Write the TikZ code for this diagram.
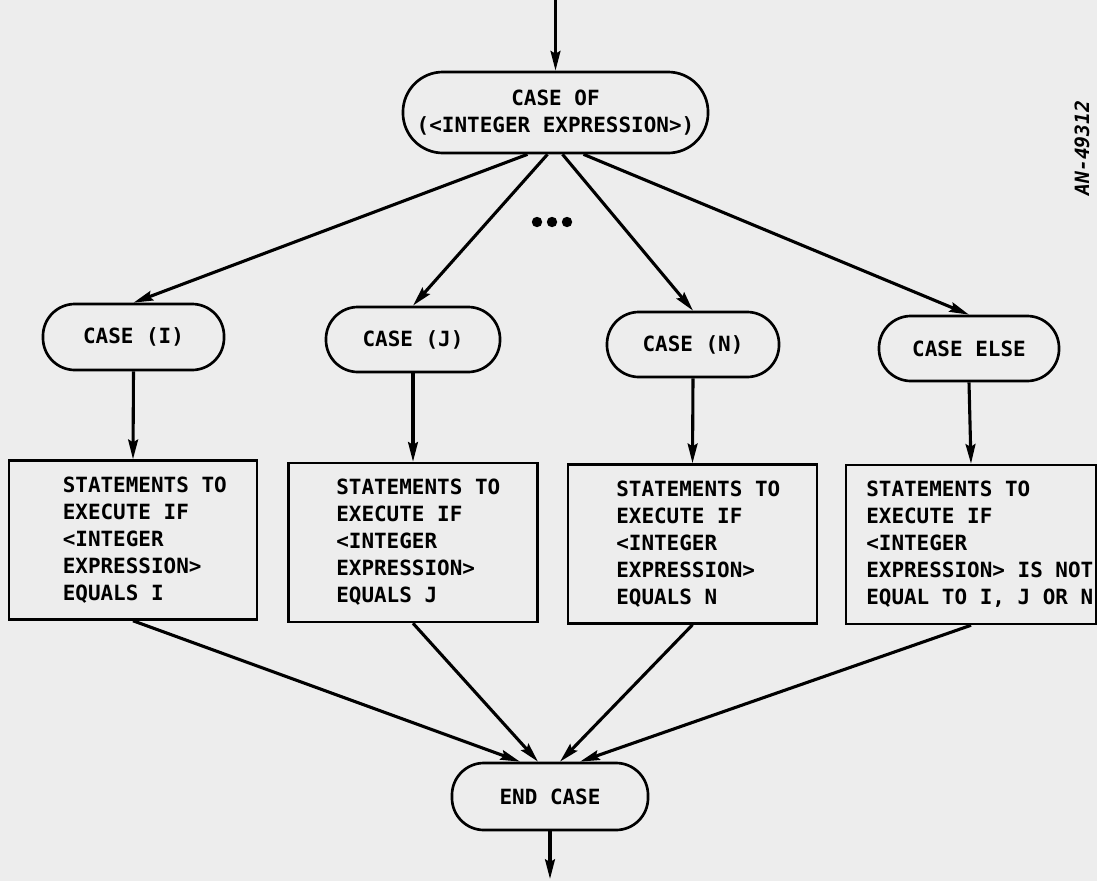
\documentclass[tikz,border=0pt]{standalone}
\usepackage{fontspec}
\setmonofont{DejaVu Sans Mono}
\usetikzlibrary{arrows.meta}

\tikzset{
	flow/.style={draw, line width=1.9pt, rounded corners=0.8cm, inner sep=0pt, align=center,
		font=\ttfamily\bfseries\fontsize{14.9}{19.2}\selectfont},
	stmt/.style={draw, line width=1.9pt, inner sep=0pt, minimum height=3.97cm},
	stmttext/.style={anchor=west, align=left, inner sep=0pt,
		font=\ttfamily\bfseries\fontsize{14.9}{19.2}\selectfont},
	go/.style={line width=2.2pt, -{Stealth[length=14pt,width=7pt,inset=2pt]}}
}

\begin{document}
\begin{tikzpicture}[x=0.025cm,y=-0.025cm]
		\fill[black!7] (0,0) rectangle (1097,881);
		\useasboundingbox (0,0) rectangle (1097,881);
		% head of the case
		\node[flow, rounded corners=1cm, minimum width=7.625cm, minimum height=2.025cm] (caseof) at (555.5,112.5)
			{CASE OF\\(<INTEGER EXPRESSION>)};
		\coordinate (in) at (555.5,0);
		\draw[go] (in) -- (caseof.north);
		% the four cases
		\node[flow, minimum width=4.525cm, minimum height=1.65cm] (casei) at (133.5,337) {CASE (I)};
		\node[flow, minimum width=4.35cm, minimum height=1.625cm] (casej) at (413,339.5) {CASE (J)};
		\node[flow, minimum width=4.3cm, minimum height=1.625cm] (casen) at (693,344.5) {CASE (N)};
		\node[flow, minimum width=4.5cm, minimum height=1.625cm] (caseelse) at (969,348.5) {CASE ELSE};
		\draw[go] ([xshift=-0.7cm]caseof.south) -- (casei.north);
		\draw[go] ([xshift=-0.2cm]caseof.south) -- (casej.north);
		\draw[go] ([xshift=0.175cm]caseof.south) -- (casen.north);
		\draw[go] ([xshift=0.7cm]caseof.south) -- (caseelse.north);
		\foreach \x in {537,552,567}
			\fill (\x,222) circle[radius=0.13cm];
		% statement boxes
		\node[stmt, minimum width=6.2cm] (stmti) at (133,540) {};
		\node[stmt, minimum width=6.21cm] (stmtj) at (413,542.5) {};
		\node[stmt, minimum width=6.225cm] (stmtn) at (692.5,544) {};
		\node[stmt, minimum width=6.25cm] (stmtelse) at (971,544.5) {};
		\node[stmttext] (texti) at (62.5,540) {STATEMENTS TO\\EXECUTE IF\\<INTEGER\\EXPRESSION>\\EQUALS I};
		\node[stmttext] (textj) at (336,542.5) {STATEMENTS TO\\EXECUTE IF\\<INTEGER\\EXPRESSION>\\EQUALS J};
		\node[stmttext] (textn) at (616,544) {STATEMENTS TO\\EXECUTE IF\\<INTEGER\\EXPRESSION>\\EQUALS N};
		\node[stmttext] (textelse) at (866,544.5) {STATEMENTS TO\\EXECUTE IF\\<INTEGER\\EXPRESSION> IS NOT\\EQUAL TO I, J OR N};
		\draw[go] (casei.south) -- (stmti.north);
		\draw[go] (casej.south) -- (stmtj.north);
		\draw[go] (casen.south) -- (stmtn.north);
		\draw[go] (caseelse.south) -- (stmtelse.north);
		% end of the case
		\node[flow, minimum width=4.9cm, minimum height=1.675cm] (endcase) at (550,796.5) {END CASE};
		\draw[go] (stmti.south) -- ([xshift=-0.75cm]endcase.north);
		\draw[go] (stmtj.south) -- ([xshift=-0.3cm]endcase.north);
		\draw[go] (stmtn.south) -- ([xshift=0.25cm]endcase.north);
		\draw[go] (stmtelse.south) -- ([xshift=0.75cm]endcase.north);
		\coordinate (out) at (550,879);
		\draw[go] (endcase.south) -- (out);
		% figure number
		\node[rotate=90, inner sep=0pt, font=\ttfamily\bfseries\itshape\fontsize{14}{14}\selectfont] (fignum) at (1082,148) {AN-49312};
	\end{tikzpicture}
\end{document}
